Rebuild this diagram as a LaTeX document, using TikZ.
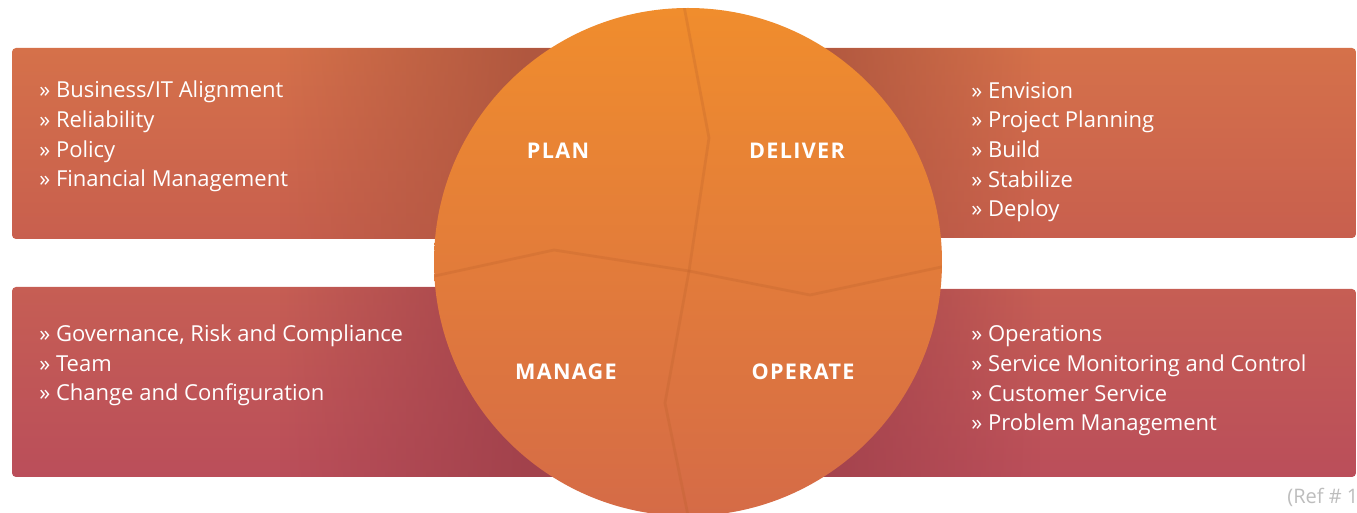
\documentclass[tikz,border=0pt]{standalone}
\usepackage{fontspec}
\setmainfont{Open Sans}
\usepackage{tikz}
\usetikzlibrary{fadings}
\definecolor{bandtopA}{HTML}{D5714A}
\definecolor{bandtopB}{HTML}{C85F4E}
\definecolor{bandlowA}{HTML}{C65E54}
\definecolor{bandlowB}{HTML}{BA4E5A}
\definecolor{bandtopdark}{HTML}{B0573F}
\definecolor{bandlowdark}{HTML}{A2424C}
\definecolor{wheeltop}{HTML}{F08D2D}
\definecolor{wheelbot}{HTML}{D56B47}
\definecolor{seamcol}{HTML}{B85F2A}
\definecolor{refgray}{HTML}{BDBDBD}
\tikzstyle{topband} = [top color=bandtopA, bottom color=bandtopB, rounded corners=2pt]
\tikzstyle{lowband} = [top color=bandlowA, bottom color=bandlowB, rounded corners=2pt]
\tikzstyle{wheel} = [circle, minimum size=254pt, inner sep=0pt,
top color=wheeltop, bottom color=wheelbot]
\tikzstyle{seam} = [draw=seamcol, line width=1.4pt, opacity=0.25, line join=round]
\tikzstyle{phase} = [text=white, inner sep=0pt,
font=\bfseries\fontsize{10.8}{13}\selectfont\addfontfeature{LetterSpace=6}]
\tikzstyle{listtext} = [text=white, inner sep=0pt, anchor=base west, align=left,
font=\fontsize{11}{14.85}\selectfont]

\begin{document}
\begin{tikzpicture}[x=0.5pt, y=-0.5pt]
        \useasboundingbox (0,0) rectangle (1357,513);
        \clip (0,0) rectangle (1357,513);
        \shade[topband] (12,48) rectangle (720,239);
        \shade[topband] (660,48) rectangle (1356,238);
        \shade[lowband] (12,287) rectangle (720,477);
        \shade[lowband] (660,289) rectangle (1356,477);
        \fill[bandtopdark, path fading=west] (280,48) rectangle (530,239);
        \fill[bandtopdark] (528,48) rectangle (720,239);
        \fill[bandtopdark, path fading=east] (810,48) rectangle (1040,238);
        \fill[bandtopdark] (660,48) rectangle (812,238);
        \fill[bandlowdark, path fading=west] (280,287) rectangle (530,477);
        \fill[bandlowdark] (528,287) rectangle (720,477);
        \fill[bandlowdark, path fading=east] (800,289) rectangle (1040,477);
        \fill[bandlowdark] (660,289) rectangle (802,477);
        \node[wheel] (wheel) at (688,262) {};
        \coordinate (hub) at (689,271);
        \coordinate (topend) at (684,6);
        \coordinate (topbend) at (709,138);
        \coordinate (botbend) at (665,403);
        \coordinate (botend) at (691,530);
        \coordinate (leftend) at (430,277);
        \coordinate (leftbend) at (554,250);
        \coordinate (rightbend) at (810,295);
        \coordinate (rightend) at (946,266);
        \begin{scope}
            \clip (688,262) circle (254);
            \draw[seam] (topend) -- (topbend) -- (hub) -- (botbend) -- (botend);
            \draw[seam] (leftend) -- (leftbend) -- (hub) -- (rightbend) -- (rightend);
        \end{scope}
        \node[phase] (plan) at (558,151) {PLAN};
        \node[phase] (deliver) at (797,151) {DELIVER};
        \node[phase] (manage) at (566,372) {MANAGE};
        \node[phase] (operate) at (803,372) {OPERATE};
        \node[listtext] (planlist) at (39,187) {» Business/IT Alignment\\» Reliability\\» Policy\\» Financial Management};
        \node[listtext] (deliverlist) at (971,217) {» Envision\\» Project Planning\\» Build\\» Stabilize\\» Deploy};
        \node[listtext] (managelist) at (39,401) {» Governance, Risk and Compliance\\» Team\\» Change and Configuration};
        \node[listtext] (operatelist) at (971,431) {» Operations\\» Service Monitoring and Control\\» Customer Service\\» Problem Management};
        \node[listtext, text=refgray, font=\fontsize{10}{12}\selectfont] (ref) at (1287,504) {(Ref \# 1)};
    \end{tikzpicture}
\end{document}
